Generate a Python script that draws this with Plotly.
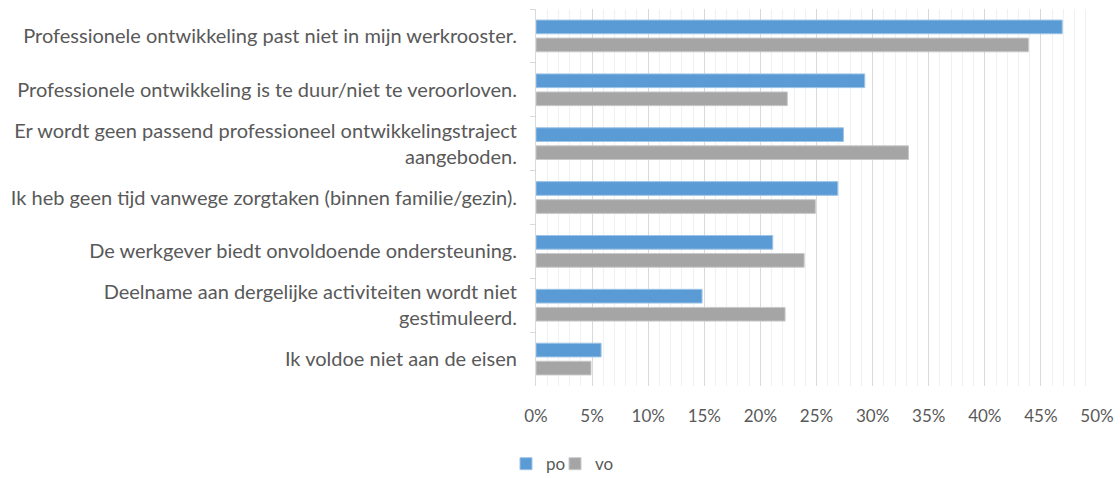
import plotly.graph_objects as go

categories = [
    "Professionele ontwikkeling past niet in mijn werkrooster.",
    "Professionele ontwikkeling is te duur/niet te veroorloven.",
    "Er wordt geen passend professioneel ontwikkelingstraject<br>aangeboden.",
    "Ik heb geen tijd vanwege zorgtaken (binnen familie/gezin).",
    "De werkgever biedt onvoldoende ondersteuning.",
    "Deelname aan dergelijke activiteiten wordt niet<br>gestimuleerd.",
    "Ik voldoe niet aan de eisen",
]
po = [0.469, 0.293, 0.274, 0.269, 0.211, 0.148, 0.058]
vo = [0.439, 0.224, 0.332, 0.249, 0.239, 0.222, 0.049]
tick_vals = [0, 0.05, 0.10, 0.15, 0.20, 0.25, 0.30, 0.35, 0.40, 0.45, 0.50]
tick_text = ["0%", "5%", "10%", "15%", "20%", "25%", "30%", "35%", "40%", "45%", "50%"]

TEXT = "#595959"
FONT = "Lato"

fig = go.Figure()
fig.add_trace(go.Bar(
    y=categories, x=po, name="po", orientation="h", legend="legend",
    marker=dict(color="#5B9BD5", line=dict(color="#9DC3E6", width=1)),
))
fig.add_trace(go.Bar(
    y=categories, x=vo, name="vo", orientation="h", legend="legend2",
    marker=dict(color="#A5A5A5", line=dict(color="#C9C9C9", width=1)),
))

# one legend box per series so the two entries sit close together
legend_common = dict(
    orientation="h", xref="container", xanchor="left",
    y=0.029, yref="container", yanchor="middle",
    font=dict(family=FONT, size=17, color=TEXT),
    itemwidth=30, bgcolor="rgba(0,0,0,0)",
)

fig.update_layout(
    width=1120, height=478,
    margin=dict(l=536, r=23, t=9, b=92, autoexpand=False),
    paper_bgcolor="white", plot_bgcolor="white",
    font=dict(family=FONT, size=17, color=TEXT),
    barmode="group", bargap=0.33, bargroupgap=0.24,
    showlegend=True,
    legend=dict(x=506 / 1120, **legend_common),
    legend2=dict(x=555 / 1120, **legend_common),
    xaxis=dict(
        range=[0, 0.5], tickvals=tick_vals, ticktext=tick_text,
        showgrid=True, gridcolor="#D9D9D9", gridwidth=1,
        zeroline=False, showline=False, ticks="",
        ticklabelstandoff=18,
        tickfont=dict(family=FONT, size=17, color=TEXT),
        minor=dict(dtick=0.01, showgrid=True, gridcolor="#F0F0F0", gridwidth=1),
    ),
    yaxis=dict(
        autorange="reversed", showgrid=False, zeroline=False,
        showline=True, linecolor="#D9D9D9", linewidth=1,
        ticks="outside", ticklen=5, tickcolor="#D9D9D9", tickson="boundaries",
        ticklabelstandoff=14,
        tickfont=dict(family=FONT, size=20, color=TEXT),
    ),
)

fig.write_html("out.html")
